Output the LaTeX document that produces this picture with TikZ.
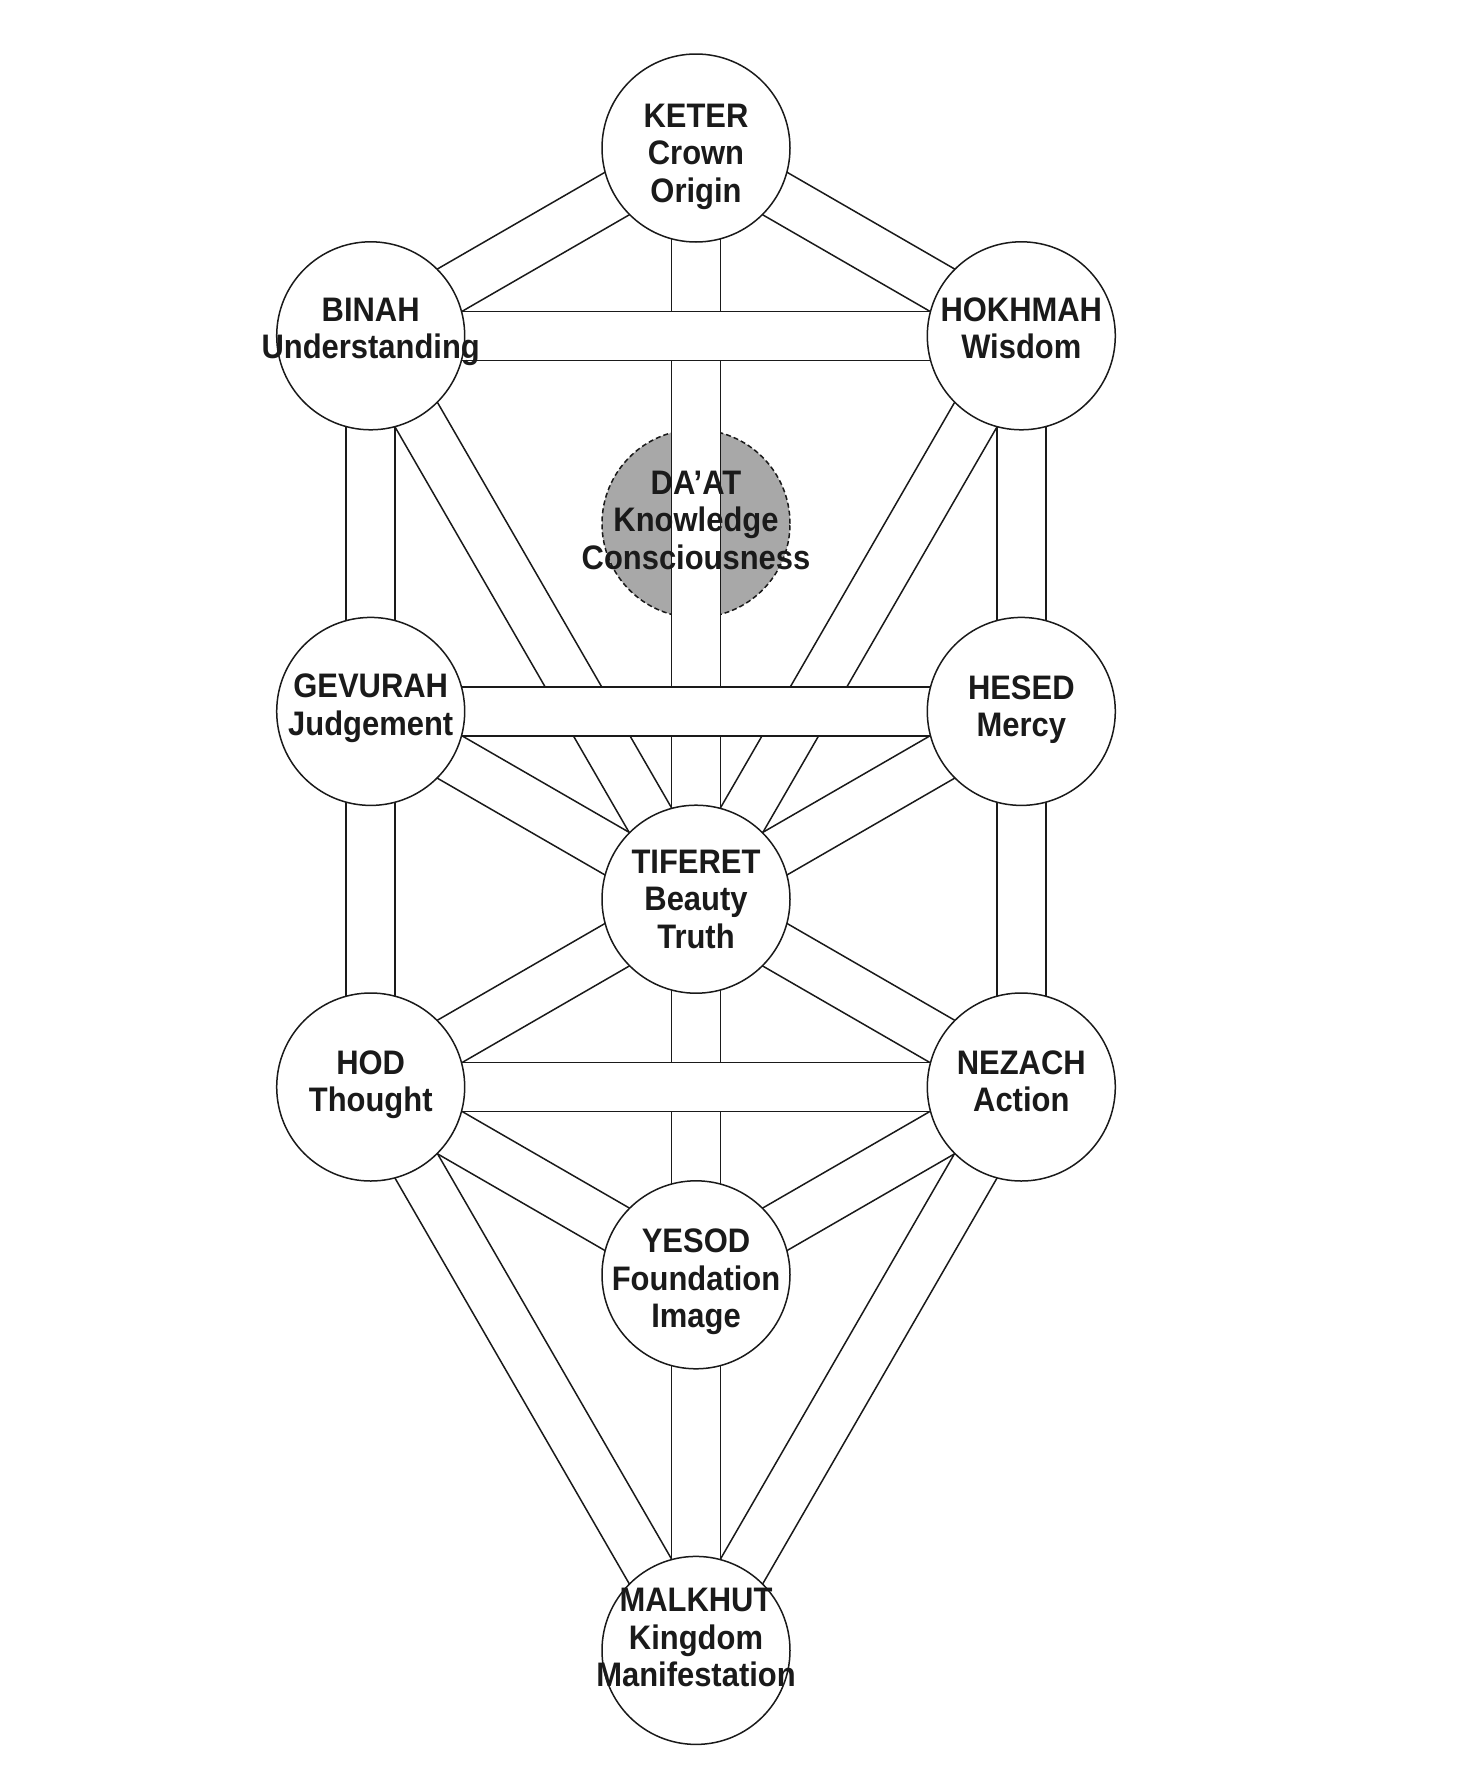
\documentclass[tikz,border=0pt]{standalone}
\usepackage{fontspec}
\newfontfamily\sefont{Liberation Sans}[FakeStretch=0.91]
\usetikzlibrary{calc}
\pgfdeclarelayer{deep}
\pgfdeclarelayer{chans}
\pgfsetlayers{deep,chans,main}
\definecolor{daatgray}{HTML}{A8A8A8}
\definecolor{ink}{HTML}{1A1A1A}
\newcommand\hw{24.5pt}
\newcommand\chan[2]{%
  \fill[white] ($(#1.center)!\hw!90:(#2.center)$) -- ($(#2.center)!\hw!-90:(#1.center)$)
    -- ($(#2.center)!\hw!90:(#1.center)$) -- ($(#1.center)!\hw!-90:(#2.center)$) -- cycle;
  \draw[chanline] ($(#1.center)!\hw!90:(#2.center)$) -- ($(#2.center)!\hw!-90:(#1.center)$);
  \draw[chanline] ($(#1.center)!\hw!-90:(#2.center)$) -- ($(#2.center)!\hw!90:(#1.center)$);
}
\newcommand\lbl[1]{\begin{tabular}[t]{@{}c@{}}#1\end{tabular}}
\begin{document}
\begin{tikzpicture}[x=1pt,y=-1pt,
  sephira/.style={circle,draw=ink,line width=1.5pt,fill=white,minimum size=188pt,inner sep=0pt},
  daatcircle/.style={circle,draw=ink,line width=1.5pt,dash pattern=on 5pt off 3pt,fill=daatgray,minimum size=188pt,inner sep=0pt},
  chanline/.style={draw=ink,line width=1.5pt},
  labeltext/.style={anchor=base,inner sep=0pt,text=ink,font=\sefont\bfseries\fontsize{34}{37.5}\selectfont}]
\useasboundingbox (0,0) rectangle (1471,1772);
% sephirot
\node[sephira] (keter)   at (696,148) {};
\node[sephira] (binah)   at (370.7,335.8) {};
\node[sephira] (hokhmah) at (1021.3,335.8) {};
\node[sephira] (gevurah) at (370.7,711.4) {};
\node[sephira] (hesed)   at (1021.3,711.4) {};
\node[sephira] (tiferet) at (696,899.2) {};
\node[sephira] (hod)     at (370.7,1087) {};
\node[sephira] (nezach)  at (1021.3,1087) {};
\node[sephira] (yesod)   at (696,1274.8) {};
\node[sephira] (malkhut) at (696,1650.4) {};
\begin{pgfonlayer}{deep}
\node[daatcircle] (daat) at (696,523.6) {};
\end{pgfonlayer}
% paths
\begin{pgfonlayer}{chans}
\chan{keter}{binah}
\chan{keter}{hokhmah}
\chan{keter}{tiferet}
\chan{binah}{gevurah}
\chan{binah}{tiferet}
\chan{hokhmah}{hesed}
\chan{hokhmah}{tiferet}
\chan{gevurah}{tiferet}
\chan{hesed}{tiferet}
\chan{gevurah}{hod}
\chan{hesed}{nezach}
\chan{tiferet}{hod}
\chan{tiferet}{nezach}
\chan{tiferet}{yesod}
\chan{hod}{yesod}
\chan{nezach}{yesod}
\chan{hod}{malkhut}
\chan{nezach}{malkhut}
\chan{yesod}{malkhut}
\chan{binah}{hokhmah}
\chan{gevurah}{hesed}
\chan{hod}{nezach}
\end{pgfonlayer}
% labels
\node[labeltext] (tketer)   at (696,127.3)    {\lbl{KETER\\Crown\\Origin}};
\node[labeltext] (tbinah)   at (370.7,321.3)  {\lbl{BINAH\\Understanding}};
\node[labeltext] (thokhmah) at (1021.3,321.3) {\lbl{HOKHMAH\\Wisdom}};
\node[labeltext] (tdaat)    at (696,494.3)    {\lbl{DA’AT\\Knowledge\\Consciousness}};
\node[labeltext] (tgevurah) at (370.7,697.7)  {\lbl{GEVURAH\\Judgement}};
\node[labeltext] (thesed)   at (1021.3,699.3) {\lbl{HESED\\Mercy}};
\node[labeltext] (ttiferet) at (696,873.3)    {\lbl{TIFERET\\Beauty\\Truth}};
\node[labeltext] (thod)     at (370.7,1074)   {\lbl{HOD\\Thought}};
\node[labeltext] (tnezach)  at (1021.3,1074)  {\lbl{NEZACH\\Action}};
\node[labeltext] (tyesod)   at (696,1252.7)   {\lbl{YESOD\\Foundation\\Image}};
\node[labeltext] (tmalkhut) at (696,1611.7)   {\lbl{MALKHUT\\Kingdom\\Manifestation}};
\end{tikzpicture}
\end{document}
